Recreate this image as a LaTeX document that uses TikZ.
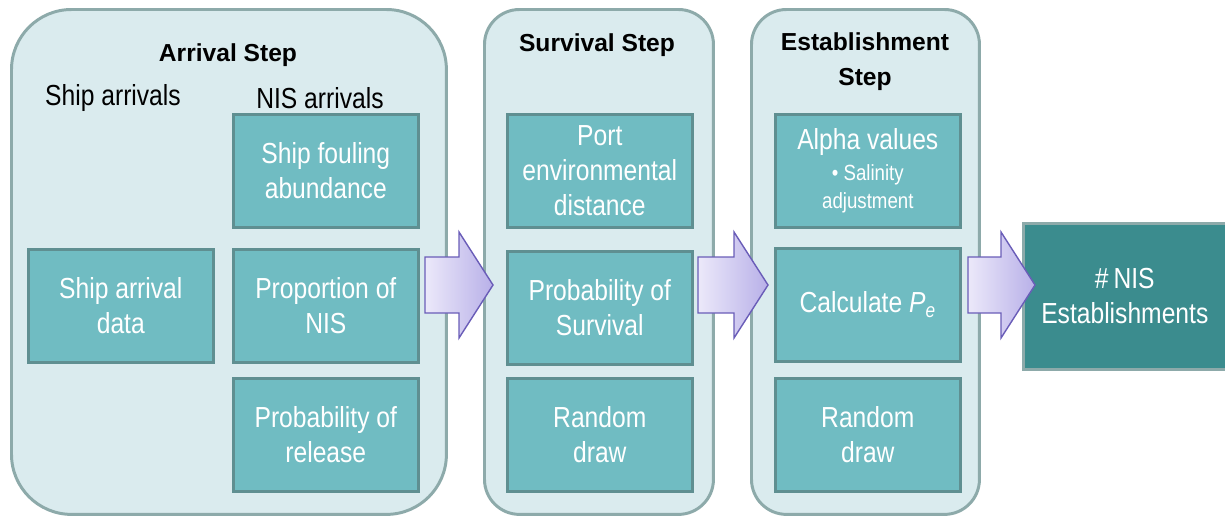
\documentclass[tikz,border=0pt]{standalone}
\usepackage{fontspec}
\setmainfont{Liberation Sans}
\newfontfamily\narrowfont{Liberation Sans}[FakeStretch=0.85]
\usetikzlibrary{calc}

\definecolor{stagefill}{HTML}{DAEBEE}
\definecolor{stageline}{HTML}{8DAAAA}
\definecolor{boxfill}{HTML}{70BCC2}
\definecolor{boxline}{HTML}{5F8F91}
\definecolor{endfill}{HTML}{3B8C8E}
\definecolor{arrowlight}{HTML}{ECE9FA}
\definecolor{arrowdark}{HTML}{B8B0E8}
\definecolor{arrowline}{HTML}{6A5DB8}

\tikzset{
  stage/.style={draw=stageline, fill=stagefill, line width=1.7pt, anchor=north west},
  box/.style={draw=boxline, fill=boxfill, line width=1.5pt, anchor=north west,
    minimum width=3.7cm, minimum height=2.26cm, align=center, text=white,
    font=\narrowfont\fontsize{16.5}{20}\selectfont},
  title/.style={font=\bfseries\fontsize{14}{20}\selectfont, align=center},
  head/.style={font=\narrowfont\fontsize{16.5}{20}\selectfont},
}

% block arrow: tail x, tip x (pixels), centre line y=285
\newcommand{\bigarrow}[2]{%
  \draw[arrowline, line width=0.8pt, left color=arrowlight, right color=arrowdark]
    (#1,257) -- ({#2-34},257) -- ({#2-34},232) -- (#2,285) -- ({#2-34},338)
    -- ({#2-34},313) -- (#1,313) -- cycle;}

\begin{document}
\begin{tikzpicture}[x=0.02cm, y=-0.02cm]
\useasboundingbox (0,0) rectangle (1225,515);

% the three steps
\node[stage, rounded corners=1.2cm, minimum width=8.7cm, minimum height=10.1cm] (arrival) at (10,8) {};
\node[stage, rounded corners=0.7cm, minimum width=4.58cm, minimum height=10.1cm] (survival) at (483,8) {};
\node[stage, rounded corners=0.7cm, minimum width=4.56cm, minimum height=10.1cm] (establish) at (750,8) {};

\node[title] (arrivaltitle) at (228,55) {Arrival Step};
\node[head] (shiphead) at (113,98) {Ship arrivals};
\node[head] (nishead) at (320,98) {NIS arrivals};
\node[title] (survivaltitle) at (597,45) {Survival Step};
\node[title] (establishtitle) at (865,62) {Establishment\\Step};

% arrival boxes
\node[box] (fouling) at (232,113) {Ship fouling\\abundance};
\node[box] (shipdata) at (27,248) {Ship arrival\\data};
\node[box] (proportion) at (232,248) {Proportion of\\NIS};
\node[box] (release) at (232,377) {Probability of\\release};

% survival boxes
\node[box] (portdist) at (506,113) {Port\\environmental\\distance};
\node[box] (probsurv) at (506,250) {Probability of\\Survival};
\node[box] (drawsurv) at (506,377) {Random\\draw};

% establishment boxes
\node[box] (alpha) at (774,113) {Alpha values\\[-2pt]{\fontsize{12.5}{16}\selectfont \textbullet\ Salinity}\\[-4pt]{\fontsize{12.5}{16}\selectfont adjustment}};
\node[box] (calcpe) at (774,247) {Calculate \textit{P\textsubscript{e}}};
\node[box] (drawest) at (774,377) {Random\\draw};

% result
\node[box, draw=stageline, fill=endfill, minimum width=4.06cm, minimum height=2.92cm] (result) at (1022,222) {\#\,NIS\\Establishments};

% arrows between steps
\bigarrow{425}{493}
\bigarrow{698}{768}
\bigarrow{968}{1035}
\end{tikzpicture}
\end{document}
